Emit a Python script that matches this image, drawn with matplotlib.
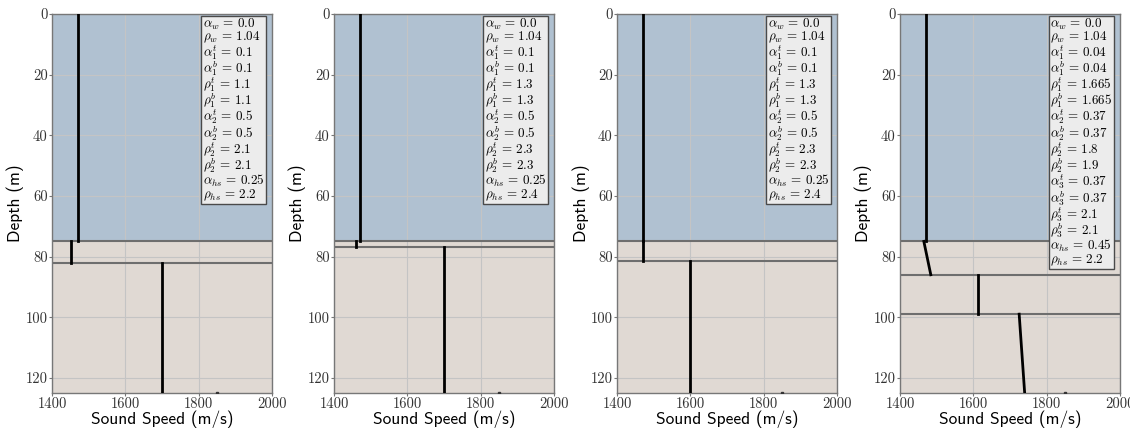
import matplotlib
matplotlib.use("Agg")
import matplotlib.pyplot as plt

plt.rcParams['mathtext.fontset'] = 'cm'
plt.rcParams['axes.formatter.use_mathtext'] = True

# ---------------- data ----------------
water_depth = [75, 75, 75, 75]
water_speed = [1470, 1470, 1470, 1470]

# layer interfaces (depths) and speeds (top, bottom) for each sediment layer / halfspace
p1_interfaces = [75, 82, 125]
p1_speed_top = [1453, 1700]
p1_speed_bot = [1453, 1700]

p2_interfaces = [75, 77, 125]
p2_speed_top = [1460, 1700]
p2_speed_bot = [1460, 1700]

p3_interfaces = [75, 81.5, 125]
p3_speed_top = [1470, 1600]
p3_speed_bot = [1470, 1600]

p4_interfaces = [75, 86, 99, 125]
p4_speed_top = [1465, 1614, 1725]
p4_speed_bot = [1484, 1614, 1740]

marker_speed = 1850
marker_depth = 125

p1_params = [r"\alpha_w", r"\rho_w", r"\alpha_1^t", r"\alpha_1^b", r"\rho_1^t", r"\rho_1^b",
             r"\alpha_2^t", r"\alpha_2^b", r"\rho_2^t", r"\rho_2^b", r"\alpha_{hs}", r"\rho_{hs}"]
p1_values = ["0.0", "1.04", "0.1", "0.1", "1.1", "1.1", "0.5", "0.5", "2.1", "2.1", "0.25", "2.2"]
p2_values = ["0.0", "1.04", "0.1", "0.1", "1.3", "1.3", "0.5", "0.5", "2.3", "2.3", "0.25", "2.4"]
p3_values = ["0.0", "1.04", "0.1", "0.1", "1.3", "1.3", "0.5", "0.5", "2.3", "2.3", "0.25", "2.4"]
p4_params = [r"\alpha_w", r"\rho_w", r"\alpha_1^t", r"\alpha_1^b", r"\rho_1^t", r"\rho_1^b",
             r"\alpha_2^t", r"\alpha_2^b", r"\rho_2^t", r"\rho_2^b",
             r"\alpha_3^t", r"\alpha_3^b", r"\rho_3^t", r"\rho_3^b", r"\alpha_{hs}", r"\rho_{hs}"]
p4_values = ["0.0", "1.04", "0.04", "0.04", "1.665", "1.665", "0.37", "0.37", "1.8", "1.9",
             "0.37", "0.37", "2.1", "2.1", "0.45", "2.2"]

x_ticks = [1400, 1600, 1800, 2000]
y_ticks = [0, 20, 40, 60, 80, 100, 120]

panels = [
    (p1_interfaces, p1_speed_top, p1_speed_bot, p1_params, p1_values),
    (p2_interfaces, p2_speed_top, p2_speed_bot, p1_params, p2_values),
    (p3_interfaces, p3_speed_top, p3_speed_bot, p1_params, p3_values),
    (p4_interfaces, p4_speed_top, p4_speed_bot, p4_params, p4_values),
]

# ---------------- styling ----------------
water_col = "#b0c1d1"
sed_col = "#e0d9d3"
bound_col = "#6e6e6e"
grid_col = "#c4c4c4"

W, H = 1130, 430
fig = plt.figure(figsize=(W / 100, H / 100), dpi=100)
lefts = [52, 334, 617, 900]
ax_w = 220
top_px, bot_px = 14, 393

for i, (ints, ctop, cbot, params, vals) in enumerate(panels):
    ax = fig.add_axes([lefts[i] / W, (H - bot_px) / H, ax_w / W, (bot_px - top_px) / H])
    ax.set_xlim(1400, 2000)
    ax.set_ylim(125, 0)
    ax.set_axisbelow(True)
    ax.axhspan(0, water_depth[i], color=water_col, zorder=0.1, lw=0)
    ax.axhspan(water_depth[i], 125, color=sed_col, zorder=0.1, lw=0)
    ax.grid(True, color=grid_col, lw=0.8)
    # water profile
    ax.plot([water_speed[i], water_speed[i]], [0, water_depth[i]], color="black", lw=2, zorder=3)
    # interfaces
    for d in ints[:-1]:
        ax.axhline(d, color=bound_col, lw=1.5, zorder=2)
    # sediment layers
    for k in range(len(ctop)):
        ax.plot([ctop[k], cbot[k]], [ints[k], ints[k + 1]], color="black", lw=2, zorder=3)
    ax.plot([marker_speed], [marker_depth], marker="s", ms=2, color="#333333", zorder=3, clip_on=True)

    ax.set_xticks(x_ticks)
    ax.set_yticks(y_ticks)
    ax.set_xticklabels([str(v) for v in x_ticks], fontfamily="cmr10", fontsize=10.5, color="#333333")
    ax.set_yticklabels([str(v) for v in y_ticks], fontfamily="cmr10", fontsize=10.5, color="#333333")
    ax.tick_params(length=2, color="#777777", width=0.8, pad=1)
    for s in ax.spines.values():
        s.set_color("#777777")
        s.set_linewidth(1.0)
    ax.set_xlabel("Sound Speed (m/s)", fontfamily="cmss10", fontsize=12.5)
    ax.set_ylabel("Depth (m)", fontfamily="cmss10", fontsize=12.5)
    ax.xaxis.set_label_coords(0.5, -0.045)
    ax.yaxis.set_label_coords(-0.125, 0.5)

    txt = "\n".join(f"${p} \\,=\\, {v}$" for p, v in zip(params, vals))
    ax.text(0.965, 0.993, txt, transform=ax.transAxes, ha="right", va="top",
            multialignment="left", fontsize=9.4, linespacing=0.82, zorder=5,
            bbox=dict(boxstyle="square,pad=0.12", facecolor="#ececec", edgecolor="#4a4a4a", lw=1.0))

fig.savefig("out.png", dpi=100)
